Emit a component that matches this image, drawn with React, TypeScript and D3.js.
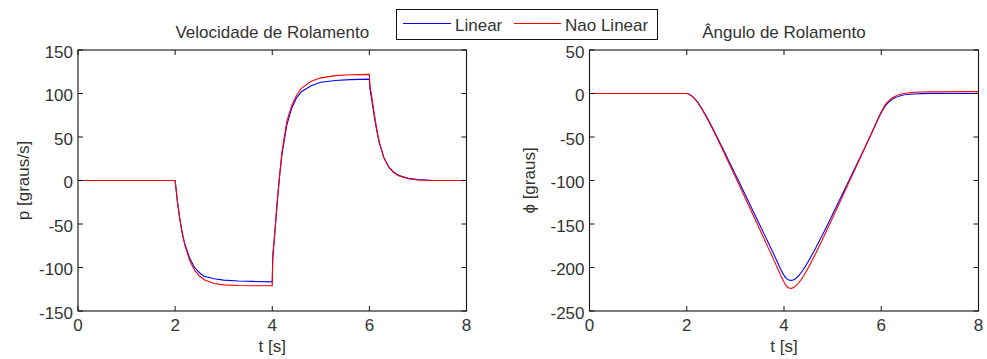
import React from "react";
import * as d3 from "d3";

// roll rate p [graus/s]
const timeP = [0, 2, 2.05, 2.1, 2.15, 2.2, 2.3, 2.4, 2.5, 2.6, 2.8, 3.0, 3.3, 3.6, 4.0, 4.01, 4.05, 4.1, 4.15, 4.2, 4.3, 4.4, 4.5, 4.6, 4.8, 5.0, 5.3, 5.6, 6.0, 6.01, 6.05, 6.1, 6.15, 6.2, 6.3, 6.4, 6.5, 6.6, 6.8, 7.0, 7.3, 8.0];
const pLinear = [0, 0, -25.5, -45.5, -61, -73, -89.5, -100, -106, -110, -113, -114.5, -115.5, -116, -116.5, -91, -62, -26, 5, 30, 64, 83, 95, 102, 109, 113, 115, 116, 116.5, 106, 92, 74, 58, 44, 26, 15.5, 9.5, 6, 2.5, 1, 0, 0];
const pNaoLinear = [0, 0, -25.6, -45.9, -61.7, -74.3, -92, -103, -109.8, -114, -118.3, -120, -120.7, -121, -121, -85, -62, -27, 5, 33, 68, 86, 98, 106, 114, 118, 120.5, 121.5, 122, 110, 96, 77, 60, 45, 26, 15, 9, 5.5, 2, 0.6, 0, 0];

// roll angle phi [graus]
const timePhi = [0, 2, 2.2, 2.4, 2.6, 2.8, 3.0, 3.2, 3.4, 3.6, 3.8, 4.0, 4.05, 4.1, 4.15, 4.2, 4.3, 4.4, 4.6, 4.8, 5.0, 5.2, 5.4, 5.6, 5.8, 6.0, 6.1, 6.2, 6.3, 6.4, 6.6, 6.8, 7.0, 8.0];
const phiLinear = [0, 0, -8.2, -26, -47.3, -70, -93, -116, -139.3, -162.5, -185.8, -209, -212.5, -214.3, -214.8, -214, -209.5, -202, -183, -161.5, -138.8, -115.7, -92.5, -69.3, -46, -22, -13, -7.7, -4.4, -2.5, -0.8, -0.2, 0, 0];
const phiNaoLinear = [0, 0, -8.6, -26.8, -48.6, -72, -95.8, -119.8, -144, -168.2, -192.4, -216.6, -221.2, -223.5, -224, -222.9, -217.8, -209.8, -189.6, -166.7, -142.9, -118.7, -94.4, -70, -45.6, -21.2, -11.7, -6.1, -2.8, -0.8, 1.0, 1.7, 1.9, 2.2];

const xTicks = [0, 2, 4, 6, 8];
const pTicks = [-150, -100, -50, 0, 50, 100, 150];
const phiTicks = [-250, -200, -150, -100, -50, 0, 50];

const FONT = "'Liberation Sans', Arial, sans-serif";
const FS = 17;
const INK = "#333";

function Panel({ x0, x1, y0, y1, yDomain, yTicks, time, blue, red, title, yLabel, yLabelX, smooth }) {
  const x = d3.scaleLinear().domain([0, 8]).range([x0, x1]);
  const y = d3.scaleLinear().domain(yDomain).range([y1, y0]);
  const line = d3.line<number>()
    .x((_, i) => x(time[i]))
    .y((d) => y(d))
    .curve(smooth ? d3.curveMonotoneX : d3.curveLinear);
  const tk = 5;

  return (
    <g>
      <text x={(x0 + x1) / 2} y={38} textAnchor="middle" fontSize={FS} fill={INK}>{title}</text>
      <path d={line(blue) || ""} fill="none" stroke="#0000ff" strokeWidth={1.1} />
      <path d={line(red) || ""} fill="none" stroke="#ff0000" strokeWidth={1.1} />
      <rect x={x0} y={y0} width={x1 - x0} height={y1 - y0} fill="none" stroke="#111" strokeWidth={1.1} />
      {xTicks.map((t) => (
        <g key={"x" + t}>
          <line x1={x(t)} x2={x(t)} y1={y1} y2={y1 - tk} stroke="#111" />
          <line x1={x(t)} x2={x(t)} y1={y0} y2={y0 + tk} stroke="#111" />
          <text x={x(t)} y={331} textAnchor="middle" fontSize={FS} fill={INK}>{t}</text>
        </g>
      ))}
      {yTicks.map((t) => (
        <g key={"y" + t}>
          <line x1={x0} x2={x0 + tk} y1={y(t)} y2={y(t)} stroke="#111" />
          <line x1={x1} x2={x1 - tk} y1={y(t)} y2={y(t)} stroke="#111" />
          <text x={x0 - 5} y={y(t) + 7.5} textAnchor="end" fontSize={FS} fill={INK}>{t}</text>
        </g>
      ))}
      <text x={(x0 + x1) / 2} y={352} textAnchor="middle" fontSize={FS} fill={INK}>t [s]</text>
      <text transform={`translate(${yLabelX},${(y0 + y1) / 2}) rotate(-90)`} textAnchor="middle" fontSize={FS} fill={INK}>{yLabel}</text>
    </g>
  );
}

export default function App() {
  return (
    <svg width={987} height={359} style={{ position: "absolute", left: 0, top: 0, background: "#fff" }} fontFamily={FONT}>
      <rect width={987} height={359} fill="#fff" />
      <Panel x0={78} x1={466.5} y0={50} y1={311} yDomain={[-150, 150]} yTicks={pTicks}
        time={timeP} blue={pLinear} red={pNaoLinear} title="Velocidade de Rolamento"
        yLabel="p [graus/s]" yLabelX={28.5} smooth={false} />
      <Panel x0={589.5} x1={978.5} y0={50} y1={311} yDomain={[-250, 50]} yTicks={phiTicks}
        time={timePhi} blue={phiLinear} red={phiNaoLinear} title="Ângulo de Rolamento"
        yLabel={"\u03D5 [graus]"} yLabelX={534.5} smooth={true} />
      <g>
        <rect x={396.5} y={9.5} width={261} height={30} fill="#fff" stroke="#111" />
        <line x1={403} x2={451} y1={23.5} y2={23.5} stroke="#0000ff" strokeWidth={1} shapeRendering="crispEdges" />
        <text x={455} y={30.5} fontSize={FS} fill={INK}>Linear</text>
        <line x1={514} x2={561} y1={23.5} y2={23.5} stroke="#ff0000" strokeWidth={1} shapeRendering="crispEdges" />
        <text x={565} y={30.5} fontSize={FS} fill={INK}>Nao Linear</text>
      </g>
    </svg>
  );
}
